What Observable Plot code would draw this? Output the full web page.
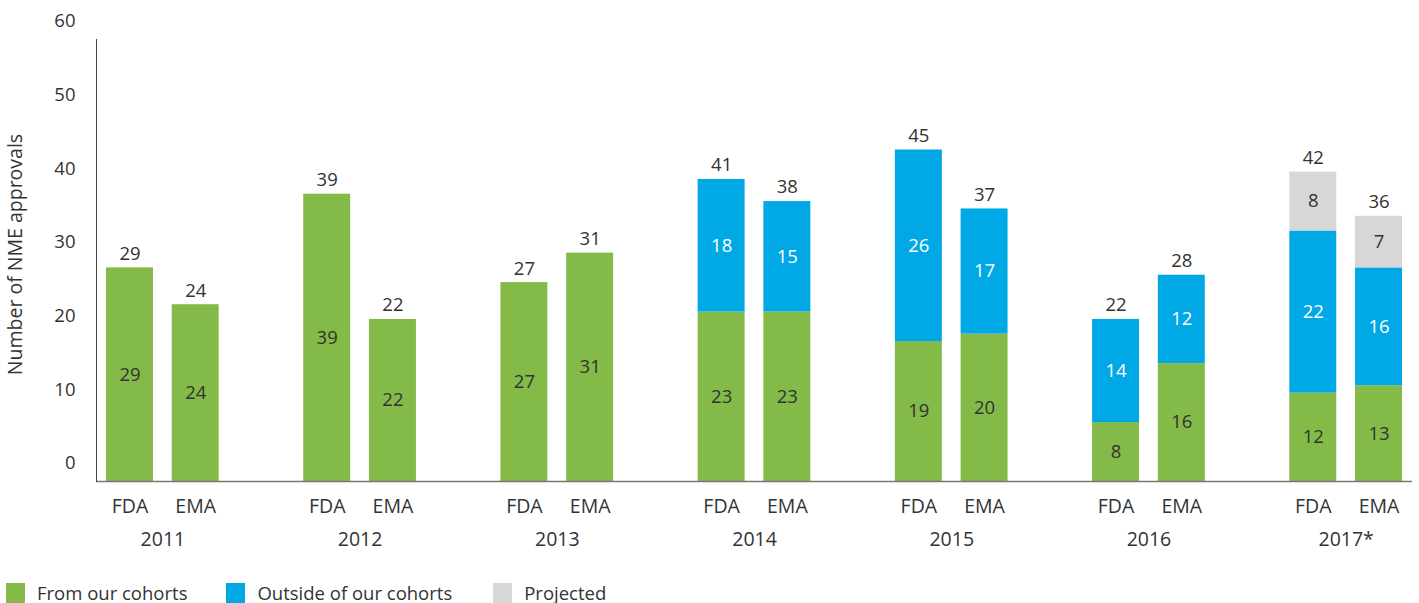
<!DOCTYPE html>
<html>
<head>
<meta charset="utf-8">
<script src="https://cdn.jsdelivr.net/npm/d3@7"></script>
<script src="https://cdn.jsdelivr.net/npm/@observablehq/plot@0.6"></script>
<style>
  html, body { margin: 0; padding: 0; background: #fff; }
  body { font-family: "Open Sans", sans-serif; color: #333; width: 1419px; height: 603px; overflow: hidden; }
  #chart svg { display: block; }
  .legend { display: flex; align-items: center; margin-left: 6px; font-size: 18.5px; line-height: 19px; height: 19px; }
  .legend .item { display: flex; align-items: center; }
  .legend .sw { width: 19px; height: 20px; margin-right: 12px; }
</style>
</head>
<body>
<div id="chart"></div>
<script>
const years = ["2011", "2012", "2013", "2014", "2015", "2016", "2017*"];
const agencies = ["FDA", "EMA"];
const seriesNames = ["From our cohorts", "Outside of our cohorts", "Projected"];
const seriesColors = ["#84BA47", "#00A9E5", "#D7D7D7"];

const fromFDA = [29, 39, 27, 23, 19, 8, 12];
const fromEMA = [24, 22, 31, 23, 20, 16, 13];
const outsideFDA = [0, 0, 0, 18, 26, 14, 22];
const outsideEMA = [0, 0, 0, 15, 17, 12, 16];
const projectedFDA = [0, 0, 0, 0, 0, 0, 8];
const projectedEMA = [0, 0, 0, 0, 0, 0, 7];
const totalFDA = [29, 39, 27, 41, 45, 22, 42];
const totalEMA = [24, 22, 31, 38, 37, 28, 36];

const yTicks = [0, 10, 20, 30, 40, 50, 60];

const seriesData = {
  FDA: [fromFDA, outsideFDA, projectedFDA],
  EMA: [fromEMA, outsideEMA, projectedEMA]
};
const totals = {FDA: totalFDA, EMA: totalEMA};

const keyOf = (y, a) => y + "|" + a;

// x domain with one spacer band between year groups
const xDomain = [];
years.forEach((y, i) => {
  agencies.forEach(a => xDomain.push(keyOf(y, a)));
  if (i < years.length - 1) xDomain.push("gap" + i);
});

const rows = [];
const totalRows = [];
const labelRows = [];
years.forEach((y, i) => {
  agencies.forEach(a => {
    seriesNames.forEach((s, j) => {
      const v = seriesData[a][j][i];
      if (v > 0) rows.push({key: keyOf(y, a), year: y, agency: a, series: s, value: v});
    });
    totalRows.push({key: keyOf(y, a), total: totals[a][i]});
    labelRows.push({key: keyOf(y, a), agency: a});
  });
});
const yearRows = years.map(y => ({key: keyOf(y, "FDA"), year: y}));

const W = 1419, H = 583;
const plot = Plot.plot({
  width: W,
  height: H,
  marginTop: 39,
  marginBottom: H - 481,
  marginLeft: 96,
  marginRight: 7,
  style: {fontFamily: "Open Sans, sans-serif", fontSize: "18px", color: "#333", background: "#fff"},
  x: {domain: xDomain, paddingInner: 0.2856, paddingOuter: 0.152, round: false, axis: null},
  y: {domain: [0, 60], axis: null},
  color: {domain: seriesNames, range: seriesColors},
  marks: [
    Plot.barY(rows, {x: "key", y: "value", fill: "series", order: seriesNames, z: "series"}),
    Plot.text(rows, Plot.stackY({
      x: "key", y: "value", z: "series", order: seriesNames,
      text: d => d.series === seriesNames[1] ? "" : String(d.value),
      fill: "#333", fontSize: 18.5
    })),
    Plot.text(rows, Plot.stackY({
      x: "key", y: "value", z: "series", order: seriesNames,
      text: d => d.series === seriesNames[1] ? String(d.value) : "",
      fill: "#fff", fontSize: 18.5
    })),
    Plot.text(totalRows, {x: "key", y: "total", text: d => String(d.total), dy: -14, fill: "#333", fontSize: 18.5}),
    Plot.text(labelRows, {x: "key", text: "agency", frameAnchor: "bottom", lineAnchor: "middle", dy: 25, fill: "#333", fontSize: 19.5}),
    Plot.text(yearRows, {x: "key", text: "year", frameAnchor: "bottom", lineAnchor: "middle", dy: 58, dx: 32.9, fill: "#333", fontSize: 19.5}),
    Plot.ruleY([0], {stroke: "#777", strokeWidth: 1.5}),
    Plot.frame({anchor: "left", stroke: "#444", strokeWidth: 1}),
    Plot.axisY({ticks: yTicks, tickSize: 0, tickPadding: 21, dy: -18, fontSize: 18.5, label: null}),
    Plot.text(["Number of NME approvals"], {frameAnchor: "left", textAnchor: "middle", lineAnchor: "middle", rotate: -90, dx: -81, dy: -6, fontSize: 19.5, fill: "#333"})
  ]
});
document.getElementById("chart").appendChild(plot);

const legend = document.createElement("div");
legend.className = "legend";
const gaps = [0, 39, 41];
seriesNames.forEach((s, i) => {
  const item = document.createElement("div");
  item.className = "item";
  item.style.marginLeft = gaps[i] + "px";
  const sw = document.createElement("div");
  sw.className = "sw";
  sw.style.background = plot.scale("color").apply(s);
  const t = document.createElement("span");
  t.textContent = s;
  item.appendChild(sw);
  item.appendChild(t);
  legend.appendChild(item);
});
document.getElementById("chart").appendChild(legend);
</script>
</body>
</html>
